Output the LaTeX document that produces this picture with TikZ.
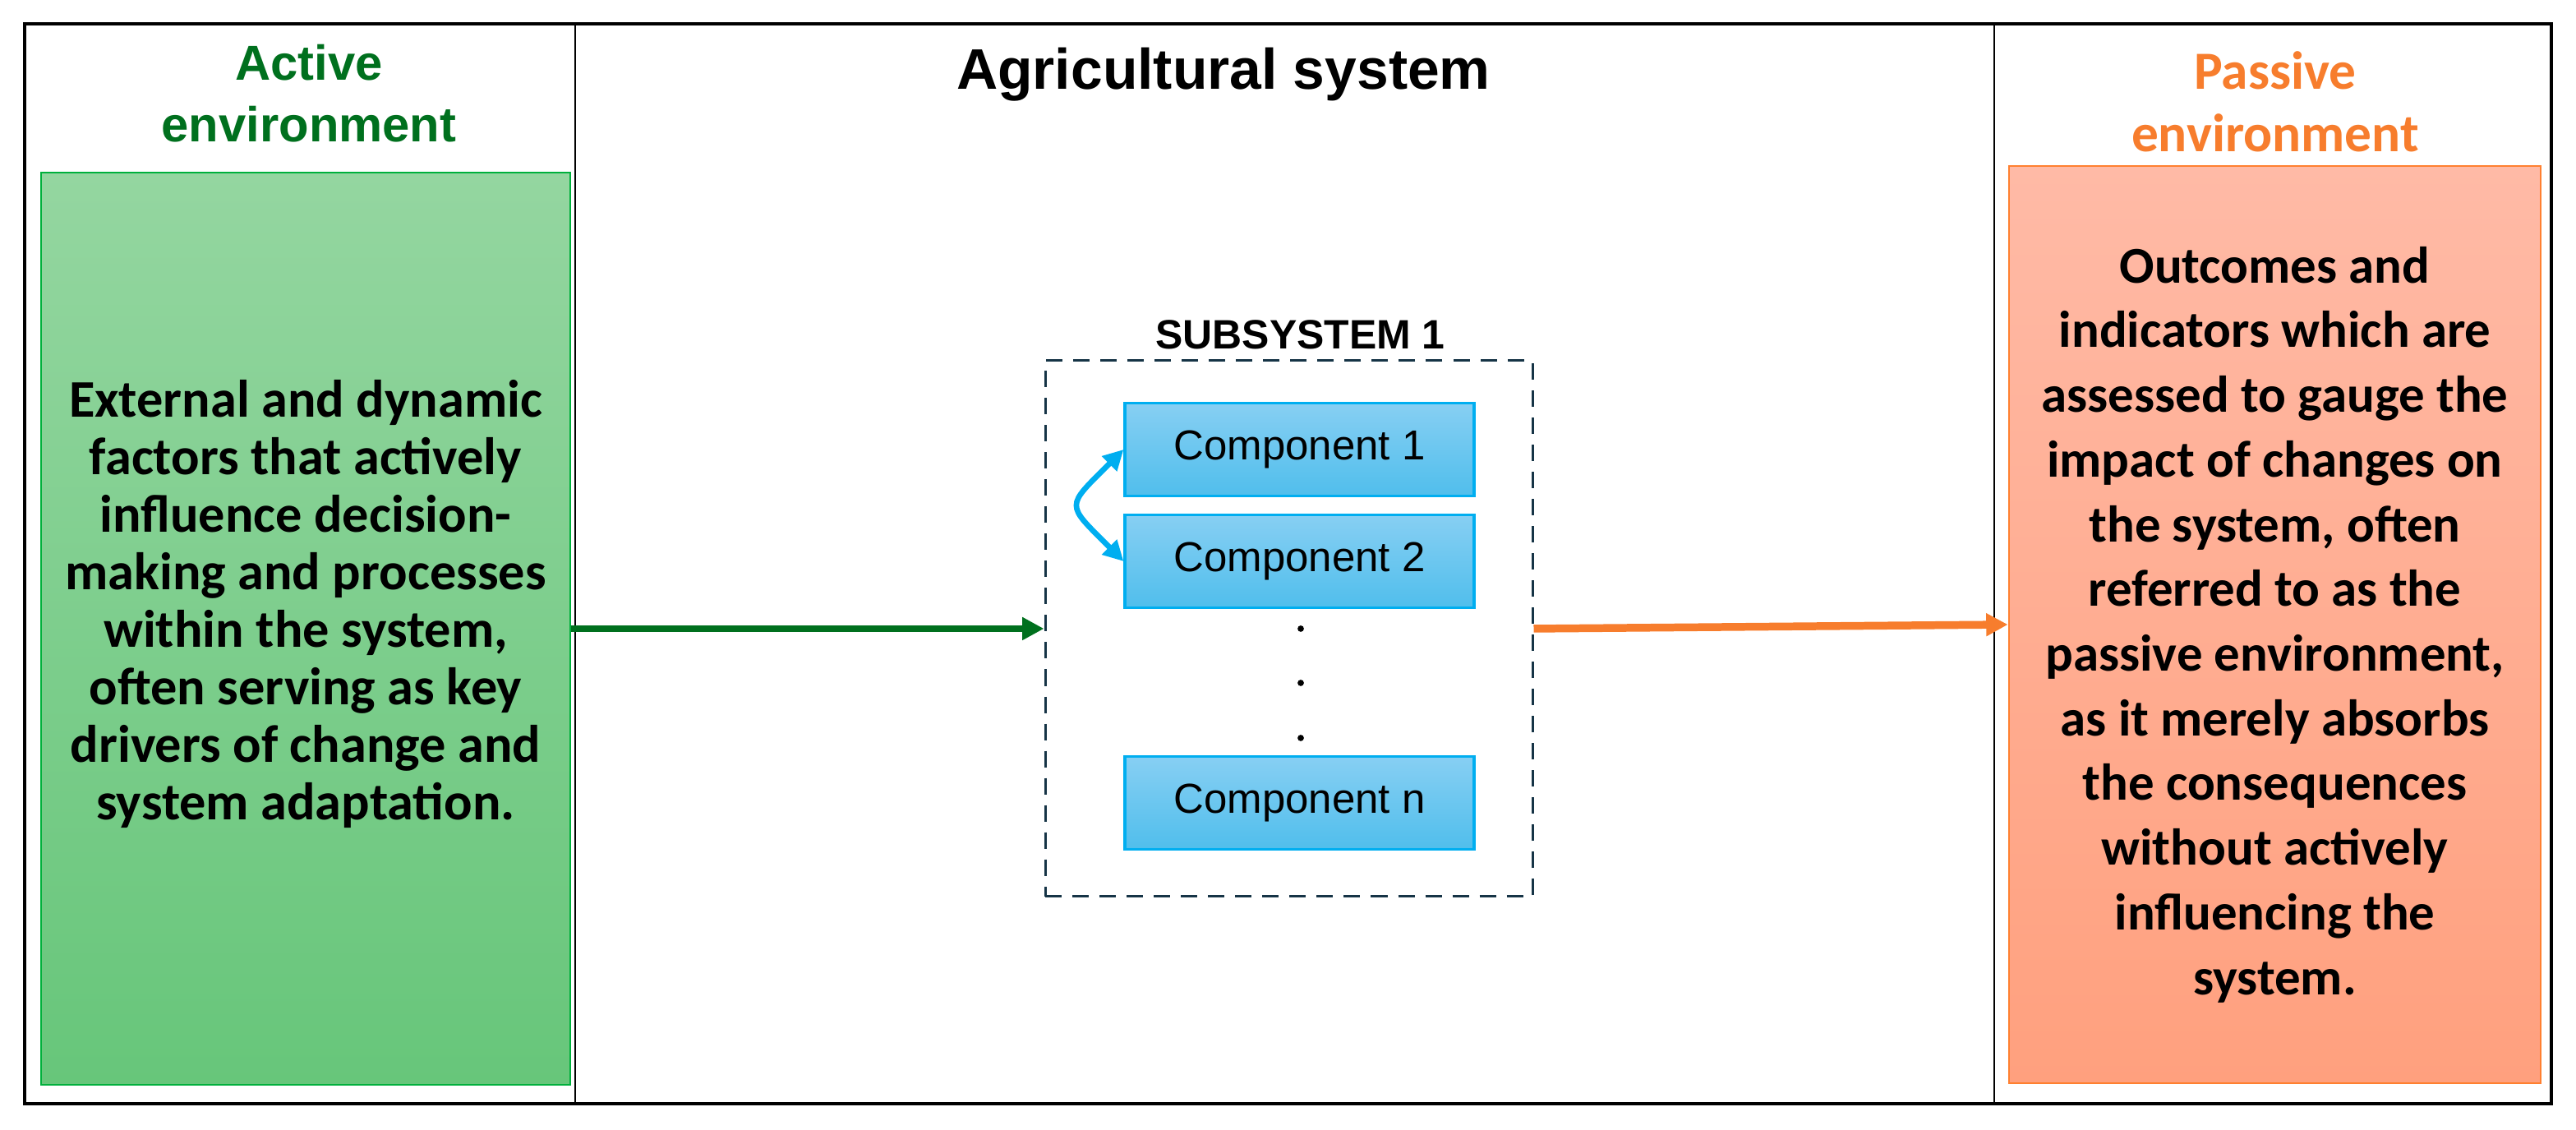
\documentclass[tikz,border=0pt]{standalone}
\usepackage{fontspec}
\setmainfont{Carlito}
\newfontfamily\arialfont{Liberation Sans}
\usetikzlibrary{arrows.meta}
\usetikzlibrary{positioning}

\definecolor{greentitle}{RGB}{0,112,30}
\definecolor{greentop}{RGB}{148,214,160}
\definecolor{greenbot}{RGB}{103,198,122}
\definecolor{greenline}{RGB}{0,176,60}
\definecolor{orangetitle}{RGB}{247,125,45}
\definecolor{orangetop}{RGB}{255,186,166}
\definecolor{orangebot}{RGB}{255,160,126}
\definecolor{orangeline}{RGB}{255,128,48}
\definecolor{bluetop}{RGB}{135,207,243}
\definecolor{bluebot}{RGB}{80,190,236}
\definecolor{blueline}{RGB}{0,174,240}
\definecolor{subline}{RGB}{22,52,70}

\tikzset{%
  >={Triangle[length=7.5pt,width=7.5pt]},
  % Specifications for style of nodes:
          envbox/.style = {rectangle, line width=0.8pt, inner sep=0pt,
                           minimum width=6.44cm, minimum height=11.1cm},
        greenbox/.style = {envbox, draw=greenline, top color=greentop,
                           bottom color=greenbot},
       orangebox/.style = {envbox, draw=orangeline, top color=orangetop,
                           bottom color=orangebot, minimum width=6.47cm,
                           minimum height=11.16cm, align=center,
                           font=\bfseries\fontsize{17.9}{22.4}\selectfont},
        bodytext/.style = {align=center,
                           font=\bfseries\fontsize{18.3}{19.9}\selectfont},
      greentitle/.style = {align=center, text=greentitle,
                           font=\arialfont\bfseries\fontsize{17}{21.3}\selectfont},
     orangetitle/.style = {align=center, text=orangetitle,
                           font=\bfseries\fontsize{18.6}{21.6}\selectfont},
         compbox/.style = {rectangle, draw=blueline, line width=0.9pt,
                           top color=bluetop, bottom color=bluebot,
                           minimum width=4.25cm, minimum height=1.13cm,
                           font=\arialfont\fontsize{14.5}{17}\selectfont},
          subbox/.style = {rectangle, draw=subline, dash pattern=on 5.7pt off 3.7pt,
                           line width=0.85pt, minimum width=5.93cm, minimum height=6.52cm},
         dotnode/.style = {circle, fill=black, inner sep=0pt, minimum size=2.2pt},
      greenarrow/.style = {->, draw=greentitle, line width=2.5pt},
     orangearrow/.style = {->, draw=orangetitle, line width=2.7pt},
       bluearrow/.style = {{Triangle[length=7pt,width=7pt]}-{Triangle[length=7pt,width=7pt]},
                           draw=blueline, line width=1.9pt}
}

\begin{document}
\begin{tikzpicture}
  \useasboundingbox (0,0) rectangle (31.35,13.75);
  % Frame and columns
  \node (frame) [draw, line width=1.1pt, inner sep=0pt, minimum width=30.75cm,
                 minimum height=13.14cm] at (15.675,6.89) {};
  \draw[line width=0.6pt] ([xshift=6.72cm]frame.north west) -- ([xshift=6.72cm]frame.south west);
  \draw[line width=0.6pt] ([xshift=23.99cm]frame.north west) -- ([xshift=23.99cm]frame.south west);

  % Specification of nodes (position, etc.)
  \node (activetitle)   [greentitle] at (3.76,12.61) {Active\\environment};
  \node (agrititle)     [anchor=base, font=\arialfont\bfseries\fontsize{19.8}{24}\selectfont]
                        at (14.89,12.66) {Agricultural system};
  \node (passivetitle)  [orangetitle] at (27.69,12.515) {Passive\\environment};

  \node (active)        [greenbox] at (3.72,6.10) {};
  \node (activetext)    [bodytext] at ([yshift=0.30cm]active.center)
        {External and dynamic\\factors that actively\\influence decision-\\making and processes\\
         within the system,\\often serving as key\\drivers of change and\\system adaptation.};

  \node (passive)       [orangebox] at (27.685,6.15)
        {Outcomes and\\indicators which are\\assessed to gauge the\\impact of changes on\\
         the system, often\\referred to as the\\passive environment,\\as it merely absorbs\\
         the consequences\\without actively\\influencing the\\system.};

  \node (sub)           [subbox] at (15.685,6.10) {};
  \node (subtitle)      [above=0pt of sub, xshift=0.14cm,
                         font=\arialfont\bfseries\fontsize{14.2}{17}\selectfont] {SUBSYSTEM 1};
  \node (comp1)         [compbox] at (15.815,8.28) {Component 1};
  \node (comp2)         [compbox, below of = comp1, node distance=1.36cm] {Component 2};
  \node (compn)         [compbox, below of = comp2, node distance=2.94cm] {Component n};
  \foreach \y [count=\i] in {6.10,5.44,4.77}
    \node (dot\i)       [dotnode] at (15.83,\y) {};

  % Connectors
  \draw[greenarrow]     (active.east) -- (sub.west);
  \draw[orangearrow]    (sub.east) -- (passive.west);
  \draw[bluearrow]      (comp1.west) to[out=225, in=135, looseness=1.9] (comp2.west);

\end{tikzpicture}
\end{document}
